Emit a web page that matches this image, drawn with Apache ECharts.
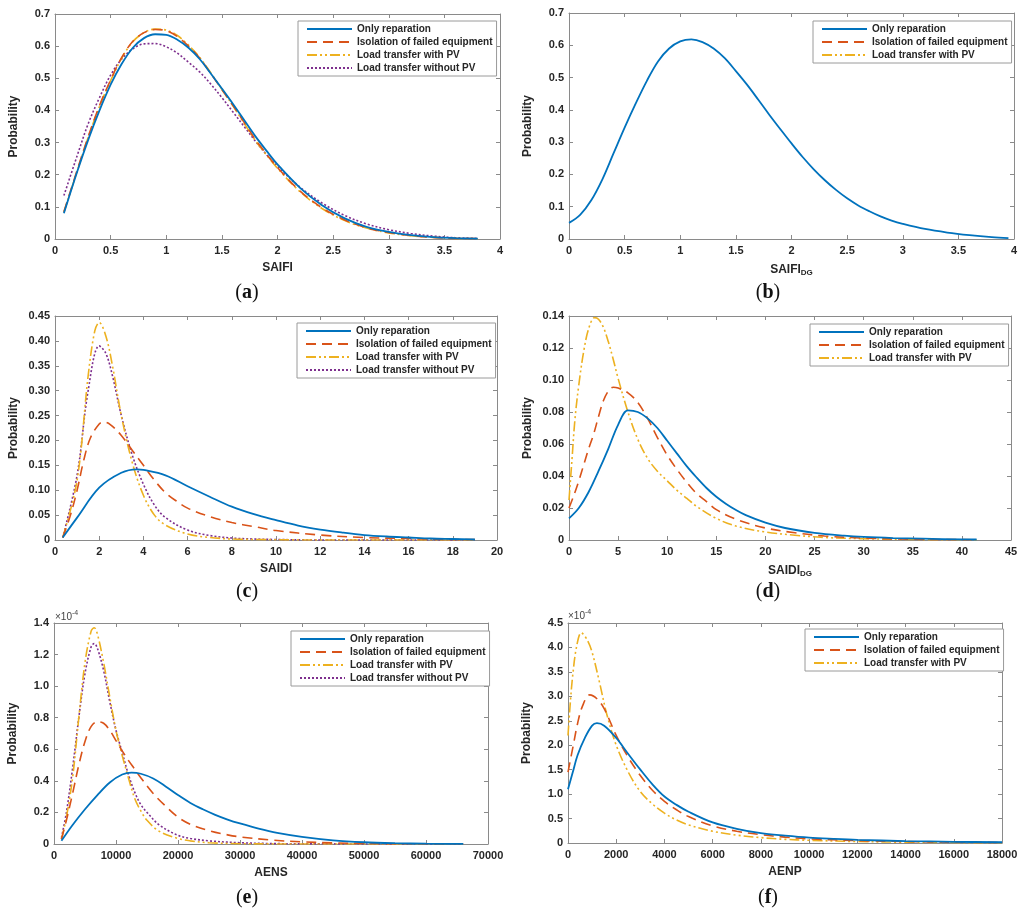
<!DOCTYPE html>
<html><head><meta charset="utf-8">
<script src="https://cdn.jsdelivr.net/npm/echarts@6/dist/echarts.min.js"></script>
<style>html,body{margin:0;padding:0;background:#fff}#c{width:1024px;height:915px}</style>
</head><body><div id="c"></div>
<script>
// ---------- series names ----------
const names = ['Only reparation', 'Isolation of failed equipment', 'Load transfer with PV', 'Load transfer without PV'];

// ---------- (a) SAIFI ----------
const saifiOnly = [[0.08,0.08],[0.2,0.21],[0.3,0.31],[0.4,0.40],[0.5,0.48],[0.6,0.545],[0.7,0.595],[0.8,0.625],[0.9,0.637],[1.0,0.635],[1.1,0.62],[1.2,0.595],[1.3,0.56],[1.4,0.515],[1.5,0.468],[1.6,0.42],[1.7,0.37],[1.8,0.32],[1.9,0.275],[2.0,0.232],[2.2,0.16],[2.4,0.105],[2.6,0.065],[2.8,0.038],[3.0,0.022],[3.2,0.012],[3.4,0.006],[3.6,0.003],[3.8,0.001]];
const saifiIso = [[0.08,0.085],[0.2,0.215],[0.3,0.32],[0.4,0.415],[0.5,0.495],[0.6,0.565],[0.7,0.615],[0.8,0.642],[0.9,0.652],[1.0,0.648],[1.1,0.63],[1.2,0.60],[1.3,0.563],[1.4,0.515],[1.5,0.465],[1.6,0.415],[1.7,0.363],[1.8,0.31],[1.9,0.265],[2.0,0.222],[2.2,0.15],[2.4,0.097],[2.6,0.06],[2.8,0.035],[3.0,0.02],[3.2,0.011],[3.4,0.005],[3.6,0.002],[3.8,0.001]];
const saifiWithPV = [[0.08,0.083],[0.2,0.212],[0.3,0.318],[0.4,0.412],[0.5,0.493],[0.6,0.563],[0.7,0.614],[0.8,0.642],[0.9,0.653],[1.0,0.65],[1.1,0.633],[1.2,0.603],[1.3,0.565],[1.4,0.517],[1.5,0.466],[1.6,0.414],[1.7,0.36],[1.8,0.307],[1.9,0.262],[2.0,0.22],[2.2,0.148],[2.4,0.095],[2.6,0.058],[2.8,0.034],[3.0,0.019],[3.2,0.01],[3.4,0.005],[3.6,0.002],[3.8,0.001]];
const saifiNoPV = [[0.08,0.135],[0.2,0.26],[0.3,0.36],[0.4,0.44],[0.5,0.51],[0.6,0.56],[0.7,0.592],[0.8,0.607],[0.9,0.608],[1.0,0.598],[1.1,0.578],[1.2,0.55],[1.3,0.52],[1.4,0.482],[1.5,0.44],[1.6,0.395],[1.7,0.35],[1.8,0.305],[1.9,0.263],[2.0,0.226],[2.2,0.162],[2.4,0.112],[2.6,0.074],[2.8,0.047],[3.0,0.029],[3.2,0.017],[3.4,0.009],[3.6,0.004],[3.8,0.002]];

// ---------- (b) SAIFI_DG ----------
const saifiDgOnly = [[0,0.05],[0.1,0.075],[0.2,0.12],[0.3,0.185],[0.4,0.265],[0.5,0.345],[0.6,0.42],[0.7,0.49],[0.8,0.55],[0.9,0.59],[1.0,0.612],[1.1,0.618],[1.2,0.61],[1.3,0.59],[1.4,0.56],[1.5,0.52],[1.6,0.478],[1.7,0.432],[1.8,0.385],[1.9,0.34],[2.0,0.296],[2.1,0.254],[2.2,0.216],[2.3,0.182],[2.4,0.152],[2.5,0.126],[2.6,0.104],[2.7,0.086],[2.8,0.07],[2.9,0.057],[3.0,0.047],[3.2,0.031],[3.4,0.02],[3.6,0.012],[3.8,0.006],[3.95,0.003]];

// ---------- (c) SAIDI ----------
const saidiOnly = [[0.35,0.005],[1,0.045],[2,0.105],[3,0.135],[3.7,0.142],[4,0.141],[5,0.13],[6,0.108],[7,0.087],[8,0.067],[9,0.052],[10,0.04],[11,0.029],[12,0.021],[13,0.015],[14,0.01],[15,0.007],[16,0.005],[17,0.003],[18,0.002],[19,0.001]];
const saidiIso = [[0.35,0.005],[0.7,0.05],[1,0.1],[1.3,0.16],[1.6,0.205],[2.0,0.233],[2.2,0.237],[2.5,0.232],[3,0.21],[3.5,0.18],[4,0.15],[4.5,0.12],[5,0.095],[5.5,0.078],[6,0.064],[7,0.047],[8,0.035],[9,0.027],[10,0.019],[12,0.01],[14,0.005],[16,0.003],[18,0.001],[19,0.001]];
const saidiWithPV = [[0.35,0.005],[1,0.12],[1.5,0.33],[1.8,0.42],[2.0,0.437],[2.3,0.41],[2.6,0.35],[3.0,0.25],[3.5,0.155],[4,0.09],[4.5,0.05],[5,0.03],[6,0.012],[7,0.005],[8,0.002],[9,0.001],[12,0],[19,0]];
const saidiNoPV = [[0.35,0.005],[1,0.13],[1.5,0.3],[2.0,0.39],[2.3,0.375],[2.6,0.33],[3.0,0.25],[3.5,0.17],[4,0.112],[4.5,0.07],[5,0.045],[6,0.02],[7,0.009],[8,0.004],[9,0.002],[10,0.001],[12,0],[19,0]];

// ---------- (d) SAIDI_DG ----------
const saidiDgOnly = [[0,0.0135],[1,0.02],[2,0.03],[3,0.043],[4,0.057],[5,0.072],[6,0.081],[7,0.08],[8,0.076],[9,0.07],[10,0.062],[11,0.054],[12,0.046],[13,0.039],[14,0.0325],[15,0.027],[16,0.0225],[17,0.0187],[18,0.0155],[20,0.0108],[22,0.0075],[25,0.0045],[28,0.0027],[30,0.0019],[33,0.0012],[36,0.0008],[40,0.0004],[41.5,0.0003]];
const saidiDgIso = [[0,0.02],[0.5,0.028],[1,0.037],[1.5,0.047],[2,0.057],[2.5,0.066],[3,0.077],[3.5,0.087],[4,0.093],[4.5,0.0955],[5,0.095],[6,0.092],[7,0.086],[8,0.076],[9,0.064],[10,0.053],[11,0.044],[12,0.036],[13,0.029],[14,0.024],[15,0.019],[17,0.013],[20,0.0075],[23,0.0045],[26,0.0025],[30,0.0012],[35,0.0005],[41,0.0002]];
const saidiDgWithPV = [[0,0.025],[0.3,0.05],[0.6,0.075],[1,0.097],[1.5,0.118],[2,0.132],[2.6,0.139],[3,0.138],[3.5,0.133],[4,0.124],[4.5,0.113],[5,0.101],[6,0.08],[7,0.063],[8,0.051],[9,0.043],[10,0.037],[11,0.031],[12,0.026],[13,0.021],[15,0.0135],[17,0.0087],[20,0.005],[23,0.003],[26,0.0016],[30,0.0008],[35,0.0003],[41.5,0.0001]];

// ---------- (e) AENS (values in units of 1e-4) ----------
const aensOnly = [[1200,0.02],[3000,0.12],[5000,0.22],[7000,0.31],[9000,0.39],[11000,0.44],[12500,0.452],[14000,0.445],[16000,0.415],[18000,0.365],[20000,0.31],[22000,0.26],[24000,0.22],[26000,0.185],[28000,0.155],[30000,0.13],[33000,0.097],[36000,0.07],[40000,0.045],[45000,0.023],[50000,0.011],[55000,0.005],[60000,0.002],[66000,0.0005]];
const aensIso = [[1200,0.03],[2000,0.15],[3000,0.32],[4000,0.5],[5000,0.65],[6000,0.745],[7000,0.775],[8000,0.765],[9000,0.72],[10000,0.655],[11000,0.59],[12000,0.53],[13000,0.475],[14000,0.42],[16000,0.32],[18000,0.24],[20000,0.17],[22000,0.125],[25000,0.085],[28000,0.058],[30000,0.045],[35000,0.025],[40000,0.014],[45000,0.007],[50000,0.004],[55000,0.002],[60000,0.001],[66000,0.0003]];
const aensWithPV = [[1200,0.03],[2000,0.17],[3000,0.42],[4000,0.8],[5000,1.15],[6000,1.35],[6500,1.37],[7000,1.33],[8000,1.15],[9000,0.93],[10000,0.72],[11000,0.56],[12000,0.42],[13000,0.29],[14000,0.21],[15000,0.15],[17000,0.08],[20000,0.035],[22000,0.02],[25000,0.008],[30000,0.002],[35000,0.0005],[40000,0],[66000,0]];
const aensNoPV = [[1200,0.04],[2000,0.2],[3000,0.48],[4000,0.8],[5000,1.08],[6000,1.25],[6500,1.27],[7000,1.24],[8000,1.1],[9000,0.9],[10000,0.72],[11000,0.58],[12000,0.44],[13000,0.33],[14000,0.25],[15000,0.2],[17000,0.12],[20000,0.055],[22000,0.035],[25000,0.02],[30000,0.008],[35000,0.003],[40000,0.001],[45000,0.0005],[50000,0],[66000,0]];

// ---------- (f) AENP (values in units of 1e-4) ----------
const aenpOnly = [[0,1.1],[200,1.45],[400,1.8],[700,2.15],[1000,2.4],[1200,2.45],[1500,2.4],[2000,2.15],[2500,1.82],[3000,1.5],[3500,1.2],[4000,0.95],[4500,0.78],[5000,0.64],[6000,0.42],[7000,0.29],[8000,0.2],[9000,0.15],[10000,0.11],[11000,0.085],[12000,0.065],[14000,0.04],[16000,0.025],[18000,0.015]];
const aenpIso = [[0,1.45],[200,1.95],[400,2.45],[600,2.8],[900,3.03],[1200,2.95],[1500,2.75],[2000,2.2],[2500,1.75],[3000,1.38],[3500,1.08],[4000,0.85],[4500,0.68],[5000,0.54],[6000,0.35],[7000,0.24],[8000,0.17],[9000,0.12],[10000,0.085],[12000,0.05],[14000,0.03],[16000,0.018],[18000,0.01]];
const aenpWithPV = [[0,2.2],[100,2.9],[200,3.45],[350,4.0],[550,4.3],[800,4.15],[1000,3.9],[1300,3.3],[1600,2.65],[2000,2.0],[2500,1.45],[3000,1.05],[3500,0.8],[4000,0.61],[4500,0.47],[5000,0.37],[6000,0.24],[7000,0.16],[8000,0.11],[9000,0.075],[10000,0.055],[12000,0.03],[14000,0.016],[16000,0.009],[18000,0.005]];

// ---------- axis ticks ----------
const xTicks = [[0,4,0.5],[0,4,0.5],[0,20,2],[0,45,5],[0,70000,10000],[0,18000,2000]];
const yTicks = [[0,0.7,0.1],[0,0.7,0.1],[0,0.45,0.05],[0,0.14,0.02],[0,1.4,0.2],[0,4.5,0.5]];
const yDecimals = [1,1,2,2,1,1];
const xNames = ['SAIFI','{m|SAIFI}{s|DG}','SAIDI','{m|SAIDI}{s|DG}','AENS','AENP'];
const captions = ['a','b','c','d','e','f'];

// ---------- styling ----------
const FONT = 'Liberation Sans';
const TXT = '#262626';
const AXC = '#8a8a8a';
const COLORS = ['#0072BD','#D95319','#EDB120','#7E2F8E'];
const DASH = ['solid',[10,6],[10,3,2,3,2,3],[2,2]];
const WID = [1.8,1.6,1.6,1.6];

const grids = [
  {left:55, top:14, width:445, height:225},
  {left:569, top:13, width:445, height:226},
  {left:55, top:316, width:442, height:224},
  {left:569, top:316, width:442, height:224},
  {left:54, top:623, width:434, height:221},
  {left:568, top:623, width:434, height:220}
];
const legends = [
  {left:298, top:21, n:4},
  {left:813, top:21, n:3},
  {left:297, top:323, n:4},
  {left:810, top:324, n:3},
  {left:291, top:631, n:4},
  {left:805, top:629, n:3}
];
const panelData = [
  [saifiOnly, saifiIso, saifiWithPV, saifiNoPV],
  [saifiDgOnly, [], []],
  [saidiOnly, saidiIso, saidiWithPV, saidiNoPV],
  [saidiDgOnly, saidiDgIso, saidiDgWithPV],
  [aensOnly, aensIso, aensWithPV, aensNoPV],
  [aenpOnly, aenpIso, aenpWithPV]
];

const xAxis = [], yAxis = [], series = [], legend = [], graphic = [];
const labelStyle = {color:TXT, fontFamily:FONT, fontWeight:'bold', fontSize:11};
const nameStyle = {color:TXT, fontFamily:FONT, fontWeight:'bold', fontSize:12,
  rich:{m:{color:TXT, fontFamily:FONT, fontWeight:'bold', fontSize:12},
        s:{color:TXT, fontFamily:FONT, fontWeight:'bold', fontSize:8, padding:[7,0,0,0]}}};

for (let i = 0; i < 6; i++) {
  const [xmin,xmax,xint] = xTicks[i];
  const [ymin,ymax,yint] = yTicks[i];
  const common = {gridIndex:i, type:'value', splitLine:{show:false},
    axisLine:{show:true, onZero:false, lineStyle:{color:AXC, width:1}},
    axisTick:{show:true, inside:true, length:4, lineStyle:{color:AXC}}};
  xAxis.push(Object.assign({}, common, {min:xmin, max:xmax, interval:xint, position:'bottom',
    axisLabel:Object.assign({margin:6, formatter:v=>String(v)}, labelStyle),
    name:xNames[i], nameLocation:'middle', nameGap:23, nameTextStyle:nameStyle}));
  xAxis.push(Object.assign({}, common, {min:xmin, max:xmax, interval:xint, position:'top', axisLabel:{show:false}}));
  const dec = yDecimals[i];
  yAxis.push(Object.assign({}, common, {min:ymin, max:ymax, interval:yint, position:'left',
    axisLabel:Object.assign({margin:5, formatter:v=>v===0?'0':v.toFixed(dec)}, labelStyle),
    name:'Probability', nameLocation:'middle', nameGap:35, nameTextStyle:nameStyle}));
  yAxis.push(Object.assign({}, common, {min:ymin, max:ymax, interval:yint, position:'right', axisLabel:{show:false}}));

  panelData[i].forEach((d, k) => {
    series.push({type:'line', name:names[k], xAxisIndex:2*i, yAxisIndex:2*i, data:d,
      smooth:0.35, symbol:'none', showSymbol:false, z:4-k+2,
      lineStyle:{color:COLORS[k], width:WID[k], type:DASH[k]}, itemStyle:{color:COLORS[k]}});
  });

  const L = legends[i];
  legend.push({left:L.left, top:L.top, orient:'vertical', data:names.slice(0, L.n),
    itemWidth:45, itemHeight:10, itemGap:3, padding:[3,4,3,8], selectedMode:false,
    borderColor:'#9a9a9a', borderWidth:1, backgroundColor:'#fff', z:10,
    itemStyle:{color:'rgba(0,0,0,0)', opacity:0, borderWidth:0},
    textStyle:{color:TXT, fontFamily:FONT, fontWeight:'bold', fontSize:10}});

  const cy = i < 2 ? 293 : (i < 4 ? 592 : 898);
  const cx = i % 2 === 0 ? 247 : 768;
  graphic.push({type:'text', x:cx, y:cy, style:{
    text:'{p|(}{b|' + captions[i] + '}{p|)}', textAlign:'center', textVerticalAlign:'middle',
    rich:{p:{fontFamily:'Liberation Serif', fontSize:20, fill:'#111'},
          b:{fontFamily:'Liberation Serif', fontSize:20, fontWeight:'bold', fill:'#111'}}}});
}
// exponent labels for (e) and (f)
[[55,617],[568,616]].forEach(p => {
  graphic.push({type:'text', x:p[0], y:p[1], style:{
    text:'{a|\u00d710}{b|-4}', textVerticalAlign:'middle',
    rich:{a:{fontFamily:FONT, fontSize:10, fill:'#444'}, b:{fontFamily:FONT, fontSize:7, fill:'#444', padding:[0,0,7,0]}}}});
});

const chart = echarts.init(document.getElementById('c'), null, {renderer:'canvas'});
chart.setOption({animation:false, backgroundColor:'#fff', grid:grids, xAxis, yAxis, series, legend, graphic});
</script></body></html>
